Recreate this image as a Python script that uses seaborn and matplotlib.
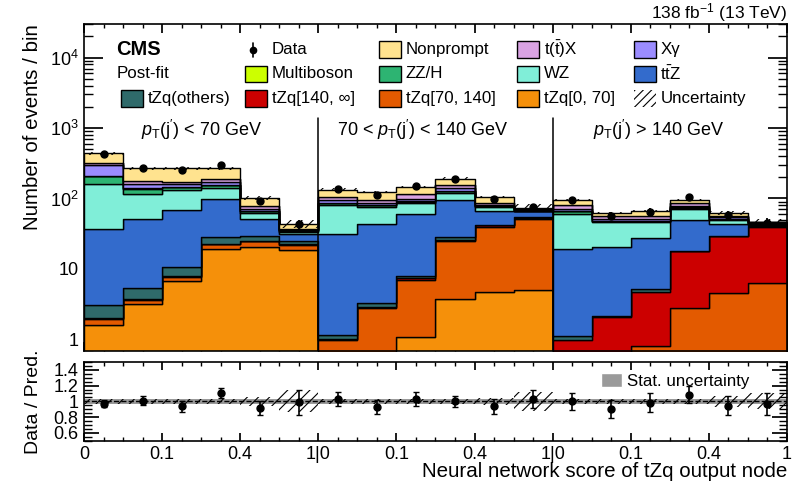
import numpy as np
import pandas as pd
import matplotlib
matplotlib.use("Agg")
import matplotlib.pyplot as plt
from matplotlib.patches import Rectangle, Patch
from matplotlib.lines import Line2D
from matplotlib.ticker import FixedLocator, FixedFormatter, MultipleLocator, LogLocator, NullFormatter
import seaborn as sns

# 18 bins: three pT(j') categories x six NN-score bins (0, ., 0.1, ., 0.4, ., 1)
region_labels = [r"$p_{\mathrm{T}}(\mathrm{j}')$ < 70 GeV",
                 r"70 < $p_{\mathrm{T}}(\mathrm{j}')$ < 140 GeV",
                 r"$p_{\mathrm{T}}(\mathrm{j}')$ > 140 GeV"]
tick_labels = ["0", "0.1", "0.4", "1|0", "0.1", "0.4", "1|0", "0.1", "0.4", "1"]

# post-fit yields per bin (bottom of the stack first)
tzq_0_70 = [1.6, 3.18, 6.8, 19.1, 20.8, 18.7, 0.3, 0.2, 1.09, 3.7, 4.68, 5.0, 0.2, 0.2, 0.2, 0.2, 0.2, 0.2]
tzq_70_140 = [0.33, 0.45, 1.0, 3.4, 3.8, 3.3, 0.68, 2.56, 5.9, 20.9, 35.3, 46.0, 0.2, 0.2, 0.6, 2.62, 4.32, 6.2]
tzq_140_inf = [0.07, 0.07, 0.1, 0.3, 0.4, 0.3, 0.04, 0.14, 0.4, 1.4, 1.5, 2.5, 0.58, 1.66, 3.97, 14.9, 24.5, 33.0]
tzq_others = [1.08, 1.6, 2.6, 5.6, 4.0, 2.3, 0.13, 0.36, 0.65, 2.4, 0.9, 1.0, 0.13, 0.11, 0.38, 0.4, 0.6, 1.6]
ttz = [34.2, 46.4, 59.0, 70.3, 22.7, 6.7, 30.15, 40.2, 53.0, 67.6, 23.3, 11.2, 18.0, 18.2, 22.35, 31.8, 14.3, 1.4]
wz = [123.7, 64.3, 64.5, 42.3, 10.7, 2.2, 50.5, 31.5, 25.0, 24.0, 9.3, 1.3, 41.9, 25.4, 18.3, 21.1, 6.0, 1.6]
zzh = [46, 21, 10, 12, 3.3, 1.4, 4.2, 5, 4, 7, 2.4, 0.5, 4.7, 2.2, 1.7, 2.5, 1.1, 0.5]
multiboson = [4, 2, 2, 2, 0.8, 0.3, 1.5, 1.5, 1, 2, 1, 0.4, 1, 0.7, 0.7, 1, 0.6, 0.3]
xgamma = [86, 22, 17, 17, 5.3, 0.8, 8.5, 4.5, 7.7, 12, 3.6, 1.5, 5.1, 2.3, 2.8, 4.5, 2.4, 0.5]
ttx = [17, 15, 9, 18, 5.6, 1.3, 9, 10, 15.3, 16, 3, 1.5, 10.2, 4.8, 6, 7, 3, 0.5]
nonprompt = [122, 91, 95, 77, 24.6, 6.6, 29, 26, 30, 35, 20, 2.5, 12, 7.2, 8.7, 10, 5.4, 1.2]

# data / prediction and its error, relative uncertainties
ratio = [0.97, 1.01, 0.935, 1.105, 0.915, 0.987, 1.034, 0.928, 1.03, 1.0, 0.935, 1.03, 1.0, 0.906, 0.98, 1.085, 0.945, 0.97]
ratio_err = [0.042, 0.06, 0.064, 0.064, 0.093, 0.155, 0.09, 0.095, 0.09, 0.074, 0.1, 0.12, 0.11, 0.117, 0.12, 0.11, 0.12, 0.14]
total_unc = [0.035, 0.035, 0.035, 0.035, 0.06, 0.14, 0.035, 0.035, 0.035, 0.035, 0.045, 0.12, 0.035, 0.035, 0.035, 0.035, 0.07, 0.10]
stat_unc = [0.03] * 18

yields = {
    "tZq[0, 70]": tzq_0_70,
    "tZq[70, 140]": tzq_70_140,
    "tZq[140, ∞]": tzq_140_inf,
    "tZq(others)": tzq_others,
    r"t$\bar{\mathrm{t}}$Z": ttz,
    "WZ": wz,
    "ZZ/H": zzh,
    "Multiboson": multiboson,
    "Xγ": xgamma,
    r"t($\bar{\mathrm{t}}$)X": ttx,
    "Nonprompt": nonprompt,
}
palette = {
    "tZq[0, 70]": "#f5900a",
    "tZq[70, 140]": "#e35a00",
    "tZq[140, ∞]": "#cc0000",
    "tZq(others)": "#2f6a6a",
    r"t$\bar{\mathrm{t}}$Z": "#336bcc",
    "WZ": "#80eed8",
    "ZZ/H": "#2db472",
    "Multiboson": "#ccff00",
    "Xγ": "#9b8cff",
    r"t($\bar{\mathrm{t}}$)X": "#d9a3e3",
    "Nonprompt": "#ffe38f",
}

edges = np.arange(19)
centers = edges[:-1] + 0.5
order = list(yields.keys())
df = pd.DataFrame([(centers[i], p, v) for p in order for i, v in enumerate(yields[p])],
                  columns=["score", "process", "events"])
total = df.groupby("score")["events"].sum().values
data_counts = np.array(ratio) * total
data_err = np.array(ratio_err) * total
unc = np.array(total_unc)
stat = np.array(stat_unc)

sns.set_theme(style="ticks", rc={"axes.edgecolor": "black", "xtick.color": "black",
                                 "ytick.color": "black", "text.color": "black",
                                 "axes.labelcolor": "black", "axes.linewidth": 1.2})
plt.rcParams["font.family"] = ["Liberation Sans", "DejaVu Sans"]
plt.rcParams["mathtext.fontset"] = "custom"
plt.rcParams["mathtext.rm"] = "Liberation Sans"
plt.rcParams["mathtext.it"] = "Liberation Sans:italic"
plt.rcParams["mathtext.bf"] = "Liberation Sans:bold"
plt.rcParams["hatch.linewidth"] = 0.8

W, H = 798, 487
fig = plt.figure(figsize=(W / 100, H / 100), dpi=100)
ax = fig.add_axes([84 / W, 1 - 350.7 / H, 703 / W, 326.7 / H])
rax = fig.add_axes([84 / W, 1 - 440.7 / H, 703 / W, 78.7 / H])

sns.histplot(data=df, x="score", weights="events", hue="process", hue_order=order[::-1],
             palette=palette, multiple="stack", bins=18, binrange=(0, 18), element="step",
             alpha=1, edgecolor="black", linewidth=1, legend=False, ax=ax)
ax.bar(centers, 2 * unc * total, bottom=total * (1 - unc), width=1, fill=False,
       hatch="///", linewidth=0, edgecolor="black", zorder=4)
ax.errorbar(centers, data_counts, yerr=data_err, fmt="o", color="black", ms=5,
            elinewidth=1.3, capsize=0, zorder=5)

ax.set_yscale("log")
ax.set_ylim(0.69, 3.0e4)
ax.set_xlim(0, 18)
ax.yaxis.set_major_locator(FixedLocator([1, 10, 100, 1000, 10000]))
ax.yaxis.set_major_formatter(FixedFormatter(["1", "10", "$10^{2}$", "$10^{3}$", "$10^{4}$"]))
ax.yaxis.set_minor_locator(LogLocator(base=10, subs=np.arange(2, 10), numticks=30))
ax.yaxis.set_minor_formatter(NullFormatter())
ax.set_xlabel("")
ax.set_ylabel("Number of events / bin", fontsize=14.8, loc="top")
ax.yaxis.set_label_coords(-0.06, 1.0)

for xs in (6, 12):
    ax.axvline(xs, ymin=0, ymax=0.712, color="black", lw=1.1, zorder=6)
for k, lab in enumerate(region_labels):
    ax.text([3.0, 8.68, 14.72][k], 0.6755, lab, transform=ax.get_xaxis_transform(),
            ha="center", va="center", fontsize=13)
ax.text(1.0, 1.016, r"138 fb$^{-1}$ (13 TeV)", transform=ax.transAxes,
        ha="right", va="baseline", fontsize=12.5)

# ratio panel
rax.stairs(1 + stat, edges, baseline=1 - stat, fill=True, color="#9a9a9a", lw=0)
rax.bar(centers, 2 * unc, bottom=1 - unc, width=1, fill=False, hatch="///",
        linewidth=0, edgecolor="black", zorder=3)
rax.axhline(1, color="black", ls="--", lw=1, zorder=4)
rax.errorbar(centers, ratio, yerr=ratio_err, fmt="o", color="black", ms=5,
             capsize=2.5, elinewidth=1.2, zorder=5)
rax.set_xlim(0, 18)
rax.set_ylim(0.5, 1.5)
rax.yaxis.set_major_locator(FixedLocator([0.6, 0.8, 1.0, 1.2, 1.4]))
rax.yaxis.set_major_formatter(FixedFormatter(["0.6", "0.8", "1", "1.2", "1.4"]))
rax.yaxis.set_minor_locator(MultipleLocator(0.05))
rax.set_ylabel("Data / Pred.", fontsize=14)
rax.yaxis.set_label_coords(-0.06, 0.5)
rax.set_xlabel("Neural network score of tZq output node", fontsize=14.8, loc="right")
rax.xaxis.set_label_coords(1.0, -0.27)
rax.legend(handles=[Patch(facecolor="#9a9a9a", label="Stat. uncertainty")], loc="upper right",
           bbox_to_anchor=(0.962, 1.0), frameon=False, fontsize=12.2, handlelength=1.2,
           handleheight=0.9, handletextpad=0.3, borderaxespad=0.25)

for a in (ax, rax):
    a.xaxis.set_major_locator(FixedLocator(np.arange(0, 19, 2)))
    a.xaxis.set_minor_locator(MultipleLocator(0.5))
    a.tick_params(which="both", direction="in", top=True, right=True, labelsize=13, pad=4)
rax.xaxis.set_major_formatter(FixedFormatter(tick_labels))
ax.tick_params(axis="x", labelbottom=False)
ax.tick_params(axis="x", which="major", length=6.5)
ax.tick_params(axis="x", which="minor", length=3)
ax.tick_params(axis="y", which="major", length=14)
ax.tick_params(axis="y", which="minor", length=6.5)
rax.tick_params(axis="x", which="major", length=6)
rax.tick_params(axis="x", which="minor", length=3)
rax.tick_params(axis="y", which="major", length=11)
rax.tick_params(axis="y", which="minor", length=5.5)


# legend, laid out as in the original 5 x 3 grid
def fxy(px, py):
    return px / W, 1 - py / H


rows = [49.5, 74, 98.5]
cols = [121, 245, 379, 517, 634]
bw, bh = 22, 16
legend_grid = [
    (None, 0, 1), ("Nonprompt", 0, 2), (r"t($\bar{\mathrm{t}}$)X", 0, 3), ("Xγ", 0, 4),
    ("Multiboson", 1, 1), ("ZZ/H", 1, 2), ("WZ", 1, 3), (r"t$\bar{\mathrm{t}}$Z", 1, 4),
    ("tZq(others)", 2, 0), ("tZq[140, ∞]", 2, 1), ("tZq[70, 140]", 2, 2), ("tZq[0, 70]", 2, 3),
    ("Uncertainty", 2, 4),
]
for name, r, c in legend_grid:
    x0, y0 = cols[c], rows[r]
    if name is None:
        cx, cy = fxy(x0 + 8, y0)
        fig.add_artist(Line2D([cx, cx], [fxy(0, y0 - 7)[1], fxy(0, y0 + 7)[1]],
                              transform=fig.transFigure, color="black", lw=1.2))
        fig.add_artist(Line2D([cx], [cy], marker="o", ms=4.5, color="black",
                              transform=fig.transFigure))
        fig.text(*fxy(x0 + 26.5, y0), "Data", va="center", fontsize=12.2)
        continue
    bx, by = fxy(x0, y0 + bh / 2)
    if name == "Uncertainty":
        rect = Rectangle((bx, by), bw / W, bh / H, transform=fig.transFigure,
                         fill=False, hatch="////", linewidth=0, edgecolor="black")
    else:
        rect = Rectangle((bx, by), bw / W, bh / H, transform=fig.transFigure,
                         facecolor=palette[name], edgecolor="black", linewidth=1)
    fig.add_artist(rect)
    fig.text(*fxy(x0 + 26.5, y0), name, va="center", fontsize=12.2)

fig.text(*fxy(116.5, rows[0]), "CMS", va="center", fontsize=14.5, fontweight="bold")
fig.text(*fxy(116.5, rows[1]), "Post-fit", va="center", fontsize=12.2)

fig.savefig("out.png", dpi=100)
